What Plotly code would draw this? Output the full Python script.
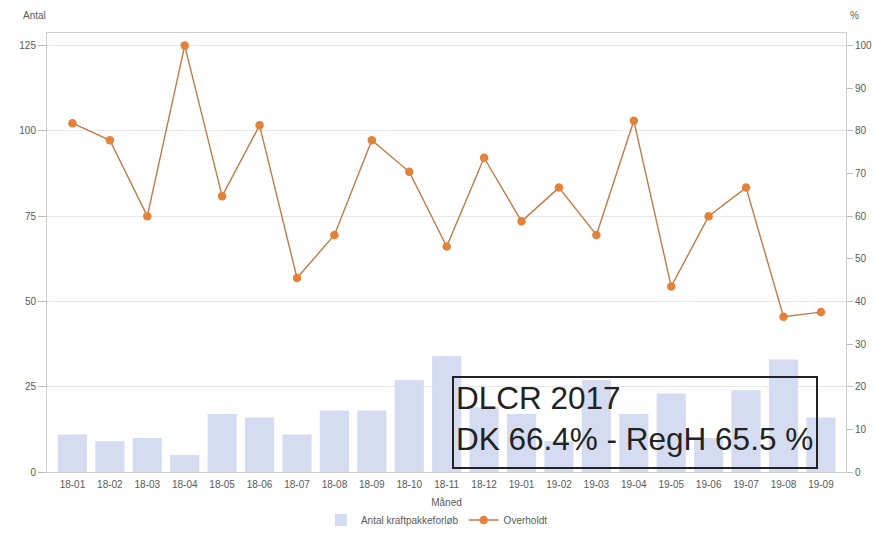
import plotly.graph_objects as go

months = ["18-01", "18-02", "18-03", "18-04", "18-05", "18-06", "18-07", "18-08", "18-09", "18-10",
          "18-11", "18-12", "19-01", "19-02", "19-03", "19-04", "19-05", "19-06", "19-07", "19-08", "19-09"]
antal = [11, 9, 10, 5, 17, 16, 11, 18, 18, 27, 34, 19, 17, 9, 27, 17, 23, 10, 24, 33, 16]
overholdt = [81.8, 77.8, 60.0, 100.0, 64.7, 81.3, 45.5, 55.6, 77.8, 70.4, 52.9, 73.7, 58.8, 66.7,
             55.6, 82.4, 43.5, 60.0, 66.7, 36.4, 37.5]

left_ticks = [0, 25, 50, 75, 100, 125]
right_ticks = [0, 10, 20, 30, 40, 50, 60, 70, 80, 90, 100]

FONT = "Liberation Sans, Arial, sans-serif"
TICKC = "#5a5a5a"

# plot area in page pixels
L, R, T, B = 47, 846, 33, 472
PW, PH = R - L, B - T

fig = go.Figure()
fig.add_trace(go.Bar(x=months, y=antal, name="Antal kraftpakkeforløb",
                     marker=dict(color="#D5DCF2", line=dict(width=0)), yaxis="y"))
fig.add_trace(go.Scatter(x=months, y=overholdt, name="Overholdt", mode="lines+markers",
                         line=dict(color="#C47A45", width=1.4),
                         marker=dict(color="#E5823A", size=8.5), yaxis="y2"))

fig.update_layout(
    width=877, height=536,
    margin=dict(l=L, r=877 - R, t=T, b=536 - B, autoexpand=False),
    paper_bgcolor="white", plot_bgcolor="white",
    font=dict(family=FONT, size=10, color=TICKC),
    bargap=0.22,
    showlegend=True,
    legend=dict(orientation="h", x=0.488, xanchor="center", y=-(520 - B) / PH, yanchor="middle",
                font=dict(size=10, color=TICKC), tracegroupgap=0),
    xaxis=dict(type="category", range=[-0.68, 20.67], tickangle=0, showgrid=False, showline=True,
               linecolor="#d0d0d0", mirror=True, ticks="", tickfont=dict(size=10, color=TICKC),
               automargin=False, ticklabelstandoff=3,
               title=dict(text="Måned", standoff=9, font=dict(size=10, color=TICKC))),
    yaxis=dict(range=[0, 128.7], tickvals=left_ticks, showgrid=True, gridcolor="#e8e8e8",
               showline=True, linecolor="#d0d0d0", ticks="outside", ticklen=8, tickcolor="#bbbbbb",
               tickfont=dict(size=10, color=TICKC), zeroline=False, automargin=False),
    yaxis2=dict(range=[0, 102.96], tickvals=right_ticks, overlaying="y", side="right",
                showgrid=False, showline=True, linecolor="#d0d0d0", ticks="outside", ticklen=6,
                tickcolor="#bbbbbb", tickfont=dict(size=10, color=TICKC), zeroline=False,
                automargin=False),
    shapes=[
        dict(type="rect", xref="paper", yref="paper",
             x0=(453 - L) / PW, x1=(817 - L) / PW, y0=(B - 468) / PH, y1=(B - 377) / PH,
             line=dict(color="#222222", width=2), fillcolor="rgba(0,0,0,0)", layer="above"),
    ],
    annotations=[
        dict(text="Antal", xref="paper", yref="paper", x=(21 - L) / PW, y=(B - 16) / PH,
             xanchor="left", yanchor="middle", showarrow=False, font=dict(size=10, color=TICKC)),
        dict(text="%", xref="paper", yref="paper", x=(848 - L) / PW, y=(B - 15) / PH,
             xanchor="left", yanchor="middle", showarrow=False, font=dict(size=10, color=TICKC)),
        dict(text="DLCR 2017<br>DK 66.4% - RegH 65.5 %", xref="paper", yref="paper",
             x=(455 - L) / PW, y=(B - 379) / PH, xanchor="left", yanchor="top", align="left",
             showarrow=False, font=dict(family=FONT, size=31.5, color="#222222"), borderpad=0),
    ],
)

fig.write_html("out.html", config={"displayModeBar": False},
               post_script="document.body.style.margin='0';")
